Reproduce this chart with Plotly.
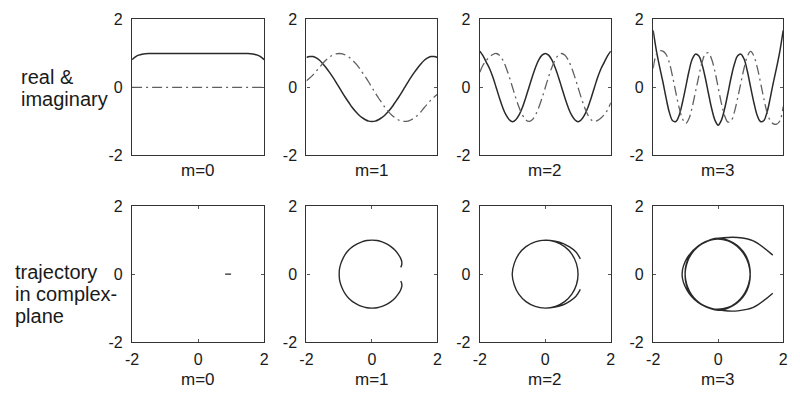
import plotly.graph_objects as go

# sample index along the signal (top row x-axis)
sample = list(range(41))
m_labels = ["m=0", "m=1", "m=2", "m=3"]
tick_vals = [-2, 0, 2]
tick_text = ["-2", "0", "2"]

# real and imaginary parts (41 samples each)
m0_re = [0.82, 0.90, 0.95, 0.98, 0.995, 1.0, 1.0, 1.0, 1.0, 1.0, 1.0, 1.0, 1.0, 1.0,
         1.0, 1.0, 1.0, 1.0, 1.0, 1.0, 1.0, 1.0, 1.0, 1.0, 1.0, 1.0, 1.0, 1.0, 1.0,
         1.0, 1.0, 1.0, 1.0, 1.0, 1.0, 1.0, 0.995, 0.98, 0.95, 0.90, 0.82]
m0_im = [0.0, 0.0, 0.0, 0.0, 0.0, 0.0, 0.0, 0.0, 0.0, 0.0, 0.0, 0.0, 0.0, 0.0,
         0.0, 0.0, 0.0, 0.0, 0.0, 0.0, 0.0, 0.0, 0.0, 0.0, 0.0, 0.0, 0.0, 0.0, 0.0,
         0.0, 0.0, 0.0, 0.0, 0.0, 0.0, 0.0, 0.0, 0.0, 0.0, 0.0, 0.0]

m1_re = [0.88, 0.91, 0.91, 0.87, 0.80, 0.70, 0.58, 0.45, 0.31, 0.16, 0.00, -0.16, -0.31,
         -0.45, -0.59, -0.71, -0.81, -0.89, -0.95, -0.99, -1.00, -0.99, -0.95, -0.89,
         -0.81, -0.71, -0.59, -0.45, -0.31, -0.16, 0.00, 0.16, 0.31, 0.45, 0.58, 0.70,
         0.80, 0.87, 0.91, 0.91, 0.88]
m1_im = [0.20, 0.28, 0.37, 0.48, 0.59, 0.71, 0.81, 0.89, 0.95, 0.99, 1.00, 0.99, 0.95,
         0.89, 0.81, 0.71, 0.59, 0.45, 0.31, 0.16, 0.00, -0.16, -0.31, -0.45, -0.59,
         -0.71, -0.81, -0.89, -0.95, -0.99, -1.00, -0.99, -0.95, -0.89, -0.81, -0.71,
         -0.59, -0.48, -0.37, -0.28, -0.20]

m2_re = [1.07, 0.93, 0.74, 0.55, 0.30, 0.00, -0.31, -0.59, -0.81, -0.95, -1.01, -0.95,
         -0.81, -0.59, -0.31, 0.00, 0.31, 0.59, 0.81, 0.95, 1.00, 0.95, 0.81, 0.59, 0.31,
         0.00, -0.31, -0.59, -0.81, -0.95, -1.01, -0.95, -0.81, -0.59, -0.31, 0.00, 0.30,
         0.55, 0.74, 0.93, 1.07]
m2_im = [0.45, 0.66, 0.80, 0.90, 0.97, 1.00, 0.95, 0.81, 0.59, 0.31, 0.00, -0.31, -0.59,
         -0.81, -0.95, -1.00, -0.95, -0.81, -0.59, -0.31, 0.00, 0.31, 0.59, 0.81, 0.95,
         1.00, 0.95, 0.81, 0.59, 0.31, 0.00, -0.31, -0.59, -0.81, -0.95, -1.00, -0.97,
         -0.90, -0.80, -0.66, -0.45]

m3_re = [1.68, 1.08, 0.60, 0.16, -0.32, -0.74, -0.98, -1.00, -0.82, -0.45, 0.00, 0.47,
         0.83, 0.98, 0.93, 0.69, 0.30, -0.17, -0.62, -0.96, -1.11, -0.96, -0.62, -0.17,
         0.30, 0.69, 0.93, 0.98, 0.83, 0.47, 0.00, -0.45, -0.82, -1.00, -0.98, -0.74,
         -0.32, 0.16, 0.60, 1.08, 1.68]
m3_im = [0.56, 0.98, 1.08, 1.07, 0.97, 0.72, 0.31, -0.16, -0.60, -0.92, -1.06, -0.92,
         -0.58, -0.14, 0.31, 0.72, 0.98, 1.02, 0.83, 0.47, 0.00, -0.47, -0.83, -1.02,
         -0.98, -0.72, -0.31, 0.14, 0.58, 0.92, 1.06, 0.92, 0.60, 0.16, -0.31, -0.72,
         -0.97, -1.07, -1.08, -0.98, -0.56]

reals = [m0_re, m1_re, m2_re, m3_re]
imags = [m0_im, m1_im, m2_im, m3_im]

W, H = 800, 399
col_px = [(127, 261), (304, 437), (480, 613), (656, 788)]
top_px = (12, 154)
bot_px = (207, 349)

FONT = "Liberation Sans, Arial, Helvetica, sans-serif"
INK = "#1a1a1a"
LINE = "#2a2a2a"

fig = go.Figure()
layout = dict(width=W, height=H, margin=dict(l=0, r=0, t=0, b=0),
              paper_bgcolor="white", plot_bgcolor="white", showlegend=False,
              font=dict(family=FONT, color=INK))

def ydom(px):
    return [1 - px[1] / H, 1 - px[0] / H]

axis_common = dict(showgrid=False, zeroline=False, showline=True, mirror="allticks",
                   linecolor="#333333", linewidth=1.4, ticks="inside", ticklen=3,
                   tickcolor="#555555", tickwidth=1, tickfont=dict(size=16, family=FONT, color=INK))

annotations = []
for i in range(4):
    xd = [col_px[i][0] / W, col_px[i][1] / W]
    # top row
    n = i + 1
    xa, ya = ("x" if n == 1 else f"x{n}"), ("y" if n == 1 else f"y{n}")
    layout[f"xaxis{n}"] = dict(axis_common, domain=xd, range=[0, 40], anchor=ya,
                               showticklabels=False, ticks="")
    layout[f"yaxis{n}"] = dict(axis_common, domain=ydom(top_px), range=[-2, 2], anchor=xa,
                               tickvals=tick_vals, ticktext=tick_text, ticklabelstandoff=5)
    fig.add_trace(go.Scatter(x=sample, y=reals[i], mode="lines", xaxis=xa, yaxis=ya,
                             line=dict(color=LINE, width=1.5, shape="spline")))
    fig.add_trace(go.Scatter(x=sample, y=imags[i], mode="lines", xaxis=xa, yaxis=ya,
                             line=dict(color="#606060", width=1.3, shape="spline",
                                       dash="10px,4px,2px,4px")))
    # bottom row
    n = i + 5
    xa, ya = f"x{n}", f"y{n}"
    layout[f"xaxis{n}"] = dict(axis_common, domain=xd, range=[-2, 2], anchor=ya,
                               tickvals=tick_vals, ticktext=tick_text, ticklabelstandoff=2)
    layout[f"yaxis{n}"] = dict(axis_common, domain=ydom(bot_px), range=[-2, 2], anchor=xa,
                               tickvals=tick_vals, ticktext=tick_text, ticklabelstandoff=5)
    fig.add_trace(go.Scatter(x=reals[i], y=imags[i], mode="lines", xaxis=xa, yaxis=ya,
                             line=dict(color=LINE, width=1.4, shape="spline")))
    cx = (col_px[i][0] + col_px[i][1]) / 2 / W
    annotations.append(dict(text=m_labels[i], x=cx, y=1 - 170 / H, xref="paper", yref="paper",
                            showarrow=False, xanchor="center", yanchor="middle",
                            font=dict(size=17, family=FONT, color=INK)))
    annotations.append(dict(text=m_labels[i], x=cx, y=1 - 388 / H, xref="paper", yref="paper",
                            showarrow=False, xanchor="center", yanchor="middle",
                            font=dict(size=17, family=FONT, color=INK)))

row_lines = [("real &", 12, 72), ("imaginary", 12, 95),
             ("trajectory", 6, 276), ("in complex-", 6, 299), ("plane", 6, 322)]
for txt, x, y in row_lines:
    annotations.append(dict(text=txt, x=x / W, y=1 - y / H, xref="paper", yref="paper",
                            showarrow=False, xanchor="left", yanchor="middle",
                            font=dict(size=20, family=FONT, color=INK)))

layout["annotations"] = annotations
fig.update_layout(**layout)
fig.write_html("out.html", config={"displayModeBar": False},
               post_script="document.body.style.margin='0';document.body.style.overflow='hidden';")
